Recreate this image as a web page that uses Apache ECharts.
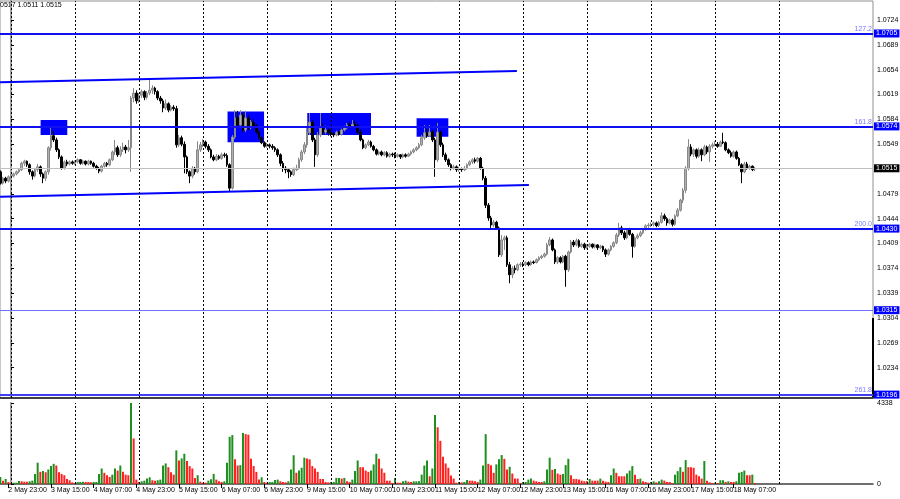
<!DOCTYPE html>
<html>
<head>
<meta charset="utf-8">
<title>EURUSD,H1</title>
<script src="https://cdn.jsdelivr.net/npm/echarts@6/dist/echarts.min.js"></script>
<style>
html,body{margin:0;padding:0;background:#fff;}
#main{width:900px;height:499px;}
</style>
</head>
<body>
<div id="main"></div>
<script>
// hourly bars, each row is [open, high, low, close]
var may02 = [[1.0510,1.0512,1.0492,1.0494],[1.0494,1.0503,1.0492,1.0501],[1.0501,1.0503,1.0494,1.0497],[1.0497,1.0505,1.0495,1.0503]];
var may03 = [[1.0503,1.0506,1.0500,1.0504],[1.0504,1.0509,1.0502,1.0507],[1.0507,1.0512,1.0505,1.0510],[1.0510,1.0515,1.0508,1.0513],
	[1.0513,1.0524,1.0511,1.0522],[1.0522,1.0527,1.0518,1.0525],[1.0525,1.0526,1.0517,1.0520],[1.0520,1.0522,1.0506,1.0510],
	[1.0510,1.0512,1.0499,1.0504],[1.0504,1.0515,1.0502,1.0513],[1.0513,1.0521,1.0510,1.0517],[1.0517,1.0519,1.0503,1.0507],
	[1.0507,1.0509,1.0494,1.0501],[1.0501,1.0512,1.0497,1.0510],[1.0510,1.0546,1.0506,1.0544],[1.0544,1.0572,1.0540,1.0561],
	[1.0561,1.0568,1.0552,1.0555],[1.0555,1.0558,1.0538,1.0541],[1.0541,1.0543,1.0528,1.0531],[1.0531,1.0533,1.0513,1.0515],
	[1.0515,1.0526,1.0513,1.0524],[1.0524,1.0527,1.0518,1.0521],[1.0521,1.0526,1.0519,1.0524],[1.0524,1.0526,1.0520,1.0522]];
var may04 = [[1.0522,1.0526,1.0520,1.0524],[1.0524,1.0529,1.0522,1.0527],[1.0527,1.0528,1.0520,1.0522],[1.0522,1.0527,1.0520,1.0525],
	[1.0525,1.0526,1.0519,1.0521],[1.0521,1.0527,1.0519,1.0525],[1.0525,1.0526,1.0520,1.0522],[1.0522,1.0524,1.0516,1.0518],
	[1.0518,1.0520,1.0513,1.0515],[1.0515,1.0517,1.0508,1.0511],[1.0511,1.0520,1.0509,1.0518],[1.0518,1.0524,1.0516,1.0522],
	[1.0522,1.0524,1.0517,1.0520],[1.0520,1.0529,1.0518,1.0527],[1.0527,1.0540,1.0525,1.0538],[1.0538,1.0555,1.0534,1.0544],
	[1.0544,1.0547,1.0531,1.0534],[1.0534,1.0546,1.0531,1.0541],[1.0541,1.0551,1.0538,1.0545],[1.0545,1.0548,1.0536,1.0541],
	[1.0541,1.0555,1.0538,1.0544],[1.0544,1.0617,1.0510,1.0614],[1.0614,1.0628,1.0608,1.0621],[1.0621,1.0625,1.0606,1.0610]];
var may05 = [[1.0610,1.0621,1.0607,1.0618],[1.0618,1.0626,1.0614,1.0623],[1.0623,1.0625,1.0611,1.0615],[1.0615,1.0624,1.0612,1.0621],
	[1.0621,1.0642,1.0618,1.0625],[1.0625,1.0632,1.0620,1.0628],[1.0628,1.0630,1.0619,1.0623],[1.0623,1.0625,1.0611,1.0614],
	[1.0614,1.0617,1.0606,1.0610],[1.0610,1.0613,1.0594,1.0600],[1.0600,1.0612,1.0597,1.0606],[1.0606,1.0608,1.0594,1.0597],
	[1.0597,1.0604,1.0595,1.0601],[1.0601,1.0604,1.0596,1.0599],[1.0599,1.0603,1.0544,1.0548],[1.0548,1.0562,1.0545,1.0558],
	[1.0558,1.0561,1.0546,1.0549],[1.0549,1.0553,1.0508,1.0531],[1.0531,1.0533,1.0507,1.0510],[1.0510,1.0512,1.0494,1.0504],
	[1.0504,1.0518,1.0501,1.0515],[1.0515,1.0517,1.0506,1.0510],[1.0510,1.0553,1.0508,1.0541],[1.0541,1.0552,1.0538,1.0548]];
var may06 = [[1.0548,1.0556,1.0545,1.0552],[1.0552,1.0554,1.0543,1.0546],[1.0546,1.0549,1.0538,1.0541],[1.0541,1.0543,1.0529,1.0531],
	[1.0531,1.0534,1.0525,1.0527],[1.0527,1.0535,1.0525,1.0532],[1.0532,1.0534,1.0527,1.0529],[1.0529,1.0537,1.0527,1.0534],
	[1.0534,1.0537,1.0530,1.0533],[1.0533,1.0536,1.0517,1.0520],[1.0520,1.0522,1.0483,1.0487],[1.0487,1.0562,1.0485,1.0559],
	[1.0559,1.0597,1.0556,1.0586],[1.0586,1.0596,1.0573,1.0576],[1.0576,1.0597,1.0574,1.0590],[1.0590,1.0593,1.0566,1.0569],
	[1.0569,1.0596,1.0566,1.0586],[1.0586,1.0590,1.0569,1.0572],[1.0572,1.0583,1.0570,1.0580],[1.0580,1.0584,1.0572,1.0575],
	[1.0575,1.0577,1.0563,1.0566],[1.0566,1.0568,1.0555,1.0558],[1.0558,1.0560,1.0549,1.0551],[1.0551,1.0553,1.0544,1.0546]];
var may09 = [[1.0546,1.0551,1.0544,1.0548],[1.0548,1.0550,1.0543,1.0546],[1.0546,1.0549,1.0541,1.0544],[1.0544,1.0546,1.0538,1.0541],
	[1.0541,1.0543,1.0531,1.0534],[1.0534,1.0536,1.0518,1.0522],[1.0522,1.0525,1.0510,1.0515],[1.0515,1.0518,1.0508,1.0513],
	[1.0513,1.0515,1.0501,1.0510],[1.0510,1.0512,1.0503,1.0506],[1.0506,1.0516,1.0504,1.0513],[1.0513,1.0520,1.0511,1.0515],
	[1.0515,1.0530,1.0513,1.0527],[1.0527,1.0541,1.0524,1.0538],[1.0538,1.0552,1.0535,1.0548],[1.0548,1.0572,1.0544,1.0565],
	[1.0565,1.0593,1.0562,1.0580],[1.0580,1.0583,1.0552,1.0555],[1.0555,1.0558,1.0517,1.0534],[1.0534,1.0566,1.0531,1.0562],
	[1.0562,1.0593,1.0559,1.0572],[1.0572,1.0578,1.0562,1.0566],[1.0566,1.0575,1.0563,1.0569],[1.0569,1.0573,1.0561,1.0565]];
var may10 = [[1.0565,1.0569,1.0560,1.0563],[1.0563,1.0566,1.0559,1.0562],[1.0562,1.0568,1.0560,1.0566],[1.0566,1.0568,1.0561,1.0563],
	[1.0563,1.0571,1.0561,1.0569],[1.0569,1.0575,1.0567,1.0572],[1.0572,1.0579,1.0570,1.0576],[1.0576,1.0580,1.0571,1.0573],
	[1.0573,1.0583,1.0572,1.0577],[1.0577,1.0582,1.0573,1.0575],[1.0575,1.0578,1.0564,1.0566],[1.0566,1.0569,1.0553,1.0555],
	[1.0555,1.0557,1.0542,1.0544],[1.0544,1.0550,1.0542,1.0548],[1.0548,1.0555,1.0546,1.0552],[1.0552,1.0554,1.0544,1.0546],
	[1.0546,1.0548,1.0539,1.0541],[1.0541,1.0543,1.0533,1.0535],[1.0535,1.0540,1.0533,1.0538],[1.0538,1.0540,1.0532,1.0534],
	[1.0534,1.0539,1.0532,1.0537],[1.0537,1.0539,1.0530,1.0532],[1.0532,1.0537,1.0530,1.0535],[1.0535,1.0537,1.0531,1.0534]];
var may11 = [[1.0534,1.0537,1.0529,1.0532],[1.0532,1.0536,1.0530,1.0534],[1.0534,1.0535,1.0528,1.0531],[1.0531,1.0536,1.0529,1.0534],
	[1.0534,1.0536,1.0530,1.0532],[1.0532,1.0537,1.0531,1.0535],[1.0535,1.0540,1.0533,1.0538],[1.0538,1.0543,1.0536,1.0541],
	[1.0541,1.0546,1.0539,1.0544],[1.0544,1.0551,1.0542,1.0548],[1.0548,1.0562,1.0546,1.0558],[1.0558,1.0576,1.0555,1.0565],
	[1.0565,1.0570,1.0558,1.0561],[1.0561,1.0576,1.0559,1.0566],[1.0566,1.0569,1.0552,1.0555],[1.0555,1.0558,1.0503,1.0527],
	[1.0527,1.0579,1.0524,1.0566],[1.0566,1.0569,1.0545,1.0548],[1.0548,1.0551,1.0531,1.0534],[1.0534,1.0537,1.0524,1.0527],
	[1.0527,1.0529,1.0517,1.0520],[1.0520,1.0522,1.0512,1.0515],[1.0515,1.0520,1.0513,1.0517],[1.0517,1.0519,1.0510,1.0513]];
var may12 = [[1.0513,1.0517,1.0510,1.0514],[1.0514,1.0516,1.0510,1.0513],[1.0513,1.0518,1.0511,1.0515],[1.0515,1.0522,1.0513,1.0520],
	[1.0520,1.0526,1.0518,1.0524],[1.0524,1.0529,1.0521,1.0527],[1.0527,1.0530,1.0522,1.0525],[1.0525,1.0531,1.0523,1.0529],
	[1.0529,1.0531,1.0513,1.0515],[1.0515,1.0517,1.0498,1.0501],[1.0501,1.0504,1.0459,1.0463],[1.0463,1.0466,1.0441,1.0445],
	[1.0445,1.0448,1.0431,1.0435],[1.0435,1.0442,1.0432,1.0439],[1.0439,1.0441,1.0428,1.0431],[1.0431,1.0433,1.0390,1.0393],
	[1.0393,1.0421,1.0390,1.0414],[1.0414,1.0420,1.0400,1.0417],[1.0417,1.0420,1.0376,1.0379],[1.0379,1.0383,1.0353,1.0365],
	[1.0365,1.0377,1.0360,1.0374],[1.0374,1.0378,1.0367,1.0372],[1.0372,1.0381,1.0370,1.0379],[1.0379,1.0383,1.0376,1.0380]];
var may13 = [[1.0380,1.0383,1.0376,1.0379],[1.0379,1.0384,1.0377,1.0382],[1.0382,1.0384,1.0377,1.0379],[1.0379,1.0385,1.0378,1.0383],
	[1.0383,1.0385,1.0380,1.0382],[1.0382,1.0388,1.0381,1.0386],[1.0386,1.0391,1.0384,1.0389],[1.0389,1.0393,1.0387,1.0391],
	[1.0391,1.0396,1.0389,1.0394],[1.0394,1.0410,1.0392,1.0407],[1.0407,1.0418,1.0405,1.0414],[1.0414,1.0416,1.0398,1.0400],
	[1.0400,1.0402,1.0380,1.0383],[1.0383,1.0391,1.0380,1.0389],[1.0389,1.0391,1.0381,1.0383],[1.0383,1.0393,1.0381,1.0391],
	[1.0391,1.0393,1.0348,1.0372],[1.0372,1.0399,1.0369,1.0397],[1.0397,1.0414,1.0395,1.0411],[1.0411,1.0414,1.0404,1.0407],
	[1.0407,1.0416,1.0405,1.0413],[1.0413,1.0415,1.0403,1.0405],[1.0405,1.0410,1.0403,1.0408],[1.0408,1.0410,1.0400,1.0403]];
var may16 = [[1.0403,1.0408,1.0401,1.0405],[1.0405,1.0410,1.0403,1.0408],[1.0408,1.0409,1.0402,1.0404],[1.0404,1.0409,1.0402,1.0407],
	[1.0407,1.0408,1.0400,1.0403],[1.0403,1.0407,1.0401,1.0405],[1.0405,1.0406,1.0397,1.0400],[1.0400,1.0402,1.0390,1.0394],
	[1.0394,1.0402,1.0392,1.0400],[1.0400,1.0407,1.0398,1.0405],[1.0405,1.0412,1.0403,1.0410],[1.0410,1.0424,1.0408,1.0421],
	[1.0421,1.0438,1.0418,1.0431],[1.0431,1.0434,1.0421,1.0424],[1.0424,1.0427,1.0414,1.0417],[1.0417,1.0431,1.0415,1.0428],
	[1.0428,1.0431,1.0420,1.0422],[1.0422,1.0424,1.0389,1.0405],[1.0405,1.0419,1.0403,1.0417],[1.0417,1.0423,1.0415,1.0420],
	[1.0420,1.0427,1.0418,1.0424],[1.0424,1.0431,1.0422,1.0429],[1.0429,1.0436,1.0427,1.0434],[1.0434,1.0438,1.0431,1.0435]];
var may17 = [[1.0435,1.0439,1.0432,1.0436],[1.0436,1.0440,1.0433,1.0438],[1.0438,1.0440,1.0432,1.0434],[1.0434,1.0441,1.0432,1.0439],
	[1.0439,1.0453,1.0437,1.0448],[1.0448,1.0451,1.0441,1.0444],[1.0444,1.0446,1.0434,1.0438],[1.0438,1.0444,1.0436,1.0442],
	[1.0442,1.0444,1.0433,1.0436],[1.0436,1.0450,1.0434,1.0448],[1.0448,1.0459,1.0446,1.0456],[1.0456,1.0472,1.0454,1.0470],
	[1.0470,1.0487,1.0466,1.0484],[1.0484,1.0518,1.0480,1.0515],[1.0515,1.0556,1.0512,1.0545],[1.0545,1.0549,1.0532,1.0535],
	[1.0535,1.0543,1.0531,1.0541],[1.0541,1.0543,1.0529,1.0532],[1.0532,1.0544,1.0530,1.0541],[1.0541,1.0543,1.0525,1.0534],
	[1.0534,1.0548,1.0532,1.0545],[1.0545,1.0547,1.0535,1.0538],[1.0538,1.0549,1.0524,1.0546],[1.0546,1.0551,1.0543,1.0548]];
var may18 = [[1.0548,1.0553,1.0546,1.0549],[1.0549,1.0552,1.0544,1.0546],[1.0546,1.0554,1.0545,1.0552],[1.0552,1.0565,1.0549,1.0551],
	[1.0551,1.0553,1.0539,1.0541],[1.0541,1.0543,1.0535,1.0537],[1.0537,1.0540,1.0530,1.0532],[1.0532,1.0540,1.0530,1.0538],
	[1.0538,1.0540,1.0527,1.0529],[1.0529,1.0531,1.0518,1.0520],[1.0520,1.0522,1.0494,1.0510],[1.0510,1.0524,1.0508,1.0521],
	[1.0521,1.0524,1.0513,1.0515],[1.0515,1.0520,1.0513,1.0518],[1.0518,1.0519,1.0511,1.0513],[1.0514,1.0517,1.0511,1.0515]];

// tick volumes per hour
var vol02 = [380,180,270,110];
var vol03 = [55,70,70,160,145,125,125,145,180,540,1140,650,690,630,780,960,1080,990,630,540,470,270,200,90];
var vol04 = [55,110,110,125,110,110,90,110,110,540,830,600,470,380,500,830,720,990,650,500,470,4338,2440,235];
var vol05 = [110,145,180,290,360,200,180,200,235,990,1100,900,630,500,1800,1260,1370,1620,1230,960,830,325,470,125];
var vol06 = [70,70,180,250,540,235,145,110,145,1140,2530,2620,1320,990,1010,2730,2670,2640,1350,960,650,235,360,110];
var vol09 = [70,110,110,215,235,145,110,90,145,780,1540,600,720,870,1410,1370,1320,960,830,650,270,270,110,90];
var vol10 = [110,110,325,325,290,325,145,110,235,690,1260,900,900,720,650,720,1050,1620,1350,830,600,180,180,55];
var vol11 = [325,70,70,145,180,125,110,145,145,145,500,990,1260,415,830,3700,3040,2310,1460,1100,870,450,290,70];
var vol12 = [110,90,110,215,180,180,145,110,235,990,2670,1080,1010,600,1050,1320,1550,1350,780,920,560,290,290,55];
var vol13 = [110,110,235,290,180,145,110,110,145,780,1410,760,810,560,500,540,1010,1350,470,270,270,235,180,145];
var vol16 = [145,270,180,180,180,290,180,125,110,470,830,600,415,415,415,560,720,960,500,270,290,145,110,70];
var vol17 = [110,145,90,145,235,180,110,110,55,500,690,900,650,1280,900,900,870,500,415,290,1230,180,90,55];
var vol18 = [70,55,200,200,110,145,110,110,145,600,650,720,470,470,500,55];

// x axis: bar number, 0 = 3 May 00:00
var firstBar = -4;
var dayStarts = [0,24,48,72,96,120,144,168,192,216,240,264,288];
var timeBars = [-1,15,31,47,63,79,95,111,127,143,159,175,191,207,223,239,255,271];
var timeLabels = ['2 May 23:00','3 May 15:00','4 May 07:00','4 May 23:00','5 May 15:00','6 May 07:00','6 May 23:00',
	'9 May 15:00','10 May 07:00','10 May 23:00','11 May 15:00','12 May 07:00','12 May 23:00','13 May 15:00',
	'16 May 07:00','16 May 23:00','17 May 15:00','18 May 07:00'];
var priceTicks = [1.0724,1.0689,1.0654,1.0619,1.0584,1.0549,1.0479,1.0444,1.0409,1.0374,1.0339,1.0304,1.0269,1.0234];
var volTicks = [0,4338];

// fibo levels and drawn objects
var levels = [1.0705,1.0574,1.0430,1.0315,1.0196];
var levelNames = ['127.2','161.8','200.0','','261.8'];
var channelTop = [[-4.1,1.06362],[189.7,1.06521]];
var channelBottom = [[-4.1,1.04750],[194.2,1.04914]];
var boxes = [
	[[11.1,1.05831],[21.1,1.05619]],
	[[81.2,1.05950],[94.9,1.05516]],
	[[111.1,1.05929],[135.0,1.05619]],
	[[152.1,1.05855],[164.0,1.05595]]
];

var font = '"Liberation Sans",Arial,sans-serif';

var days = [may02,may03,may04,may05,may06,may09,may10,may11,may12,may13,may16,may17,may18];
var vols = [vol02,vol03,vol04,vol05,vol06,vol09,vol10,vol11,vol12,vol13,vol16,vol17,vol18];

var candles = [];
var volumes = [];
var n = firstBar;
var prevVol = null, prevUp = true;
for (var d = 0; d < days.length; d++) {
	for (var k = 0; k < days[d].length; k++) {
		var b = days[d][k];
		candles.push([n, b[0], b[3], b[2], b[1]]);
		var v = vols[d][k];
		// mt4 volumes: green when higher than previous bar, red when lower
		var up = prevVol === null ? true : (v > prevVol ? true : (v < prevVol ? false : prevUp));
		volumes.push({value: [n, v], itemStyle: {color: up ? '#1f8f1f' : '#ff2020'}});
		prevVol = v; prevUp = up;
		n++;
	}
}
var lastPrice = candles[candles.length - 1][2];

function dayLines() {
	return dayStarts.map(function(x) { return {xAxis: x}; });
}

var levelLines = levels.map(function(p, i) {
	var thin = levelNames[i] === '';
	return {
		yAxis: p,
		lineStyle: {color: thin ? '#7070ff' : (p < 1.02 ? '#4040f0' : '#1010f0'), width: thin ? 1 : 2, type: 'solid'},
		label: {show: !thin, position: 'insideEndTop', distance: 1, formatter: levelNames[i],
			color: '#7b7bff', fontSize: 7, fontFamily: font}
	};
});
var levelTags = levels.map(function(p) {
	return {
		yAxis: p,
		lineStyle: {color: 'rgba(0,0,0,0)', width: 0},
		label: {show: true, position: 'end', distance: 1, formatter: p.toFixed(4),
			color: '#fff', backgroundColor: '#0000ff', padding: [1, 2, 0, 2], fontSize: 7, fontFamily: font}
	};
});
levelTags.push({
	yAxis: lastPrice,
	lineStyle: {color: '#c0c0c0', width: 1, type: 'solid'},
	label: {show: true, position: 'end', distance: 1, formatter: lastPrice.toFixed(4),
		color: '#fff', backgroundColor: '#000', padding: [1, 2, 0, 2], fontSize: 7, fontFamily: font}
});

var labelMap = {};
for (var t = 0; t < timeBars.length; t++) labelMap[timeBars[t]] = timeLabels[t];

var xMin = -4.125, xMax = 323.25;

var myChart = echarts.init(document.getElementById('main'));
var option = {
	animation: false,
	backgroundColor: '#fff',
	textStyle: {fontFamily: font},
	grid: [
		{left: 0, top: 1, width: 873, height: 397, show: true, borderColor: '#909090', borderWidth: 1, outerBoundsMode: 'none'},
		{left: 0, top: 403, width: 873, height: 81, outerBoundsMode: 'none'}
	],
	xAxis: [
		{
			type: 'value', gridIndex: 0, min: xMin, max: xMax,
			axisLine: {show: true, onZero: false, lineStyle: {color: '#404040', width: 2}},
			axisTick: {show: false}, axisLabel: {show: false}, splitLine: {show: false}
		},
		{
			type: 'value', gridIndex: 1, min: xMin, max: xMax,
			axisLine: {show: true, onZero: false, lineStyle: {color: '#404040', width: 1.5}},
			axisTick: {show: true, customValues: timeBars, length: 4, lineStyle: {color: '#000'}},
			axisLabel: {
				customValues: timeBars, align: 'left', margin: 3, fontSize: 7, color: '#000', fontFamily: font,
				hideOverlap: false, showMaxLabel: true, showMinLabel: true,
				formatter: function(v) { return labelMap[v] || ''; }
			},
			splitLine: {show: false}
		}
	],
	yAxis: [
		{
			type: 'value', gridIndex: 0, position: 'right', min: 1.019123, max: 1.075078,
			axisLine: {show: true, lineStyle: {color: '#a0a0a0', width: 2}},
			axisTick: {show: true, customValues: priceTicks, length: 3, lineStyle: {color: '#000'}},
			axisLabel: {
				customValues: priceTicks, margin: 4, fontSize: 7, color: '#000', fontFamily: font,
				formatter: function(v) { return v.toFixed(4); }
			},
			splitLine: {show: false}
		},
		{
			type: 'value', gridIndex: 1, position: 'right', min: 0, max: 4338,
			axisLine: {show: true, lineStyle: {color: '#a0a0a0', width: 2}},
			axisTick: {show: true, customValues: volTicks, length: 3, lineStyle: {color: '#000'}},
			axisLabel: {
				customValues: volTicks, margin: 4, fontSize: 7, color: '#000', fontFamily: font,
				formatter: function(v) { return String(v); }
			},
			splitLine: {show: false}
		}
	],
	series: [
		{
			name: 'EURUSD,H1',
			type: 'candlestick',
			xAxisIndex: 0, yAxisIndex: 0,
			barWidth: 2,
			itemStyle: {
				color: '#b0b0b0', color0: '#000000',
				borderColor: '#888888', borderColor0: '#000000', borderColorDoji: '#000000',
				borderWidth: 1
			},
			data: candles,
			markArea: {
				silent: true,
				itemStyle: {color: '#0000ff', opacity: 1},
				data: boxes.map(function(r) {
					return [{coord: r[0]}, {coord: r[1]}];
				})
			},
			markLine: {
				silent: true, symbol: ['none', 'none'], precision: 5,
				data: dayLines().map(function(o) {
					o.lineStyle = {color: '#000', width: 1, type: [2, 2]};
					o.label = {show: false};
					return o;
				}).concat(levelLines)
			}
		},
		{
			name: 'channel top',
			type: 'line', xAxisIndex: 0, yAxisIndex: 0,
			symbol: 'none', z: 4,
			lineStyle: {color: '#0000ff', width: 2},
			data: channelTop,
			markLine: {silent: true, symbol: ['none', 'none'], precision: 5, data: levelTags}
		},
		{
			name: 'channel bottom',
			type: 'line', xAxisIndex: 0, yAxisIndex: 0,
			symbol: 'none', z: 4,
			lineStyle: {color: '#0000ff', width: 2},
			data: channelBottom
		},
		{
			name: 'Volumes',
			type: 'bar',
			xAxisIndex: 1, yAxisIndex: 1,
			barWidth: 2,
			data: volumes,
			markLine: {
				silent: true, symbol: ['none', 'none'],
				lineStyle: {color: '#000', width: 1, type: [2, 2]},
				label: {show: false},
				data: dayLines()
			}
		}
	],
	graphic: [
		{type: 'text', left: 0, top: 2, style: {text: '0517 1.0511 1.0515', fill: '#000', font: '7px ' + font}},
		{type: 'rect', shape: {x: 872, y: 318, width: 2, height: 80}, style: {fill: '#000'}}
	]
};
myChart.setOption(option);
</script>
</body>
</html>
